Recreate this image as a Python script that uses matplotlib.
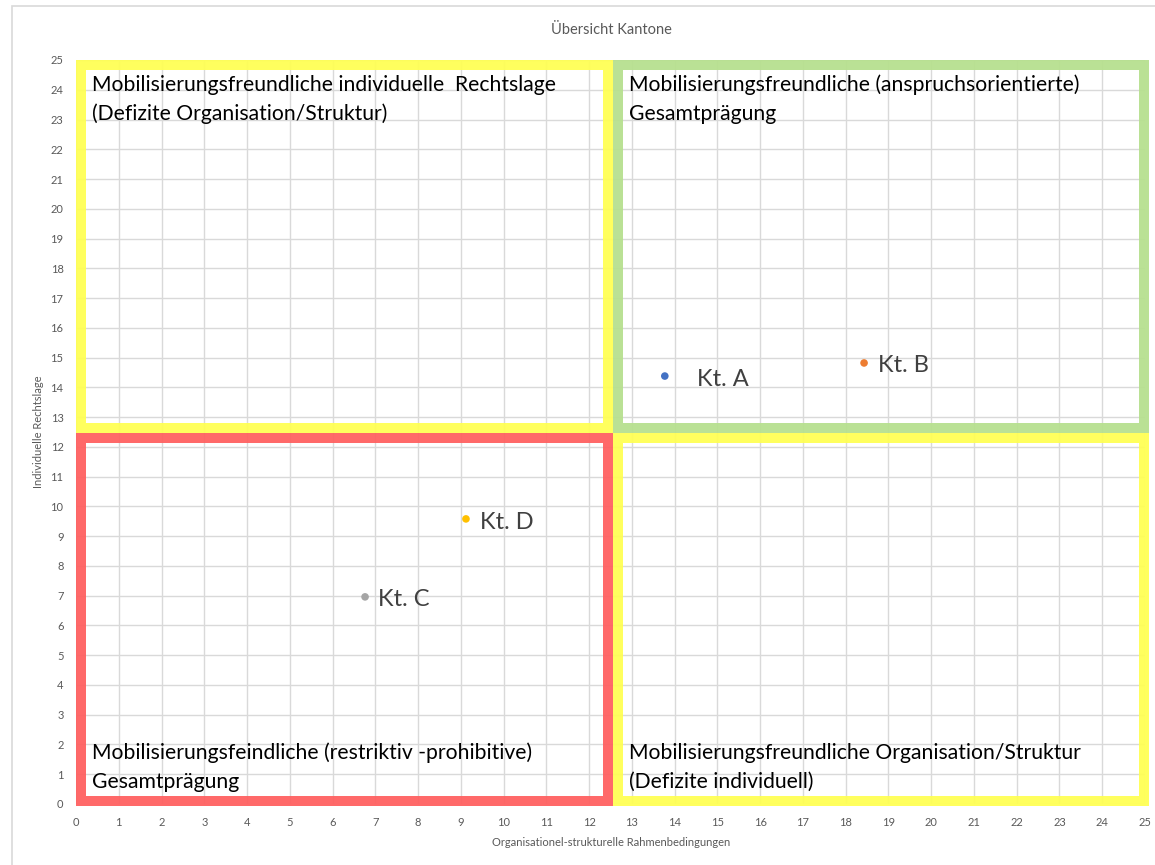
import matplotlib
matplotlib.use("Agg")
import matplotlib.pyplot as plt
from matplotlib.patches import Rectangle

plt.rcParams['font.family'] = ['Lato', 'DejaVu Sans']

# Cantons: organisational-structural conditions (x) vs individual legal situation (y)
cantons = ['Kt. A', 'Kt. B', 'Kt. C', 'Kt. D']
org_struct = [13.77, 18.43, 6.76, 9.12]
legal = [14.38, 14.82, 6.96, 9.58]
point_colors = ['#4472C4', '#ED7D31', '#A5A5A5', '#FFC000']
label_offsets = [(32, -3), (14, -3), (13, -3), (14, -4)]  # px

# Quadrant frames: (x0, x1, y0, y1, colour, caption)
quad_x0 = [0, 12.55, 0, 12.55]
quad_x1 = [12.55, 25.1, 12.55, 25.1]
quad_y0 = [12.47, 12.47, -0.07, -0.07]
quad_y1 = [25, 25, 12.47, 12.47]
quad_colors = ['#FFFF55', '#B7E08F', '#FF6161', '#FFFF55']
quad_text = [
    ['Mobilisierungsfreundliche individuelle  Rechtslage', '(Defizite Organisation/Struktur)'],
    ['Mobilisierungsfreundliche (anspruchsorientierte)', 'Gesamtprägung'],
    ['Mobilisierungsfeindliche (restriktiv -prohibitive)', 'Gesamtprägung'],
    ['Mobilisierungsfreundliche Organisation/Struktur', '(Defizite individuell)'],
]
# caption line centres, pixels from the top of the figure
caption_rows = [[85, 114], [85, 114], [753, 782], [753, 782]]

W, H = 1155, 865
fig = plt.figure(figsize=(W / 100, H / 100), dpi=100)
fig.patches.append(Rectangle((12 / W, -0.05), 1.1, (H - 6) / H + 0.05,
                             transform=fig.transFigure, fill=False,
                             edgecolor='#D9D9D9', lw=1.2))

left, right, bottom, top = 76, 1145, 804, 60
ax = fig.add_axes([left / W, (H - bottom) / H, (right - left) / W, (bottom - top) / H])
ax.set_xlim(0, 25)
ax.set_ylim(0, 25)
ax.set_xticks(range(26))
ax.set_yticks(range(26))
ax.grid(True, color='#D9D9D9', lw=1)
ax.set_axisbelow(True)
for s in ax.spines.values():
    s.set_visible(False)
ax.tick_params(length=0, labelsize=8, colors='#595959', pad=9)

px_x = (right - left) / 25
px_y = (bottom - top) / 25
lw_px = 10
for x0, x1, y0, y1, c, lines, rows in zip(quad_x0, quad_x1, quad_y0, quad_y1,
                                          quad_colors, quad_text, caption_rows):
    dx = lw_px / 2 / px_x
    dy = lw_px / 2 / px_y
    ax.add_patch(Rectangle((x0 + dx, y0 + dy), x1 - x0 - 2 * dx, y1 - y0 - 2 * dy,
                           fill=False, edgecolor=c, lw=lw_px * 0.72, alpha=0.95,
                           joinstyle='miter', clip_on=False, zorder=2))
    for line, row in zip(lines, rows):
        ax.text(x0 + 16 / px_x, (bottom - row) / px_y, line, fontsize=15.2,
                va='center', ha='left')

ax.scatter(org_struct, legal, c=point_colors, s=30, zorder=3, edgecolors='none')
for name, x, y, (ox, oy) in zip(cantons, org_struct, legal, label_offsets):
    ax.annotate(name, (x, y), xytext=(ox * 0.72, oy * 0.72), textcoords='offset points',
                fontsize=17, color='#404040', va='center', ha='left')

fig.text(611 / W, 1 - 30 / H, 'Übersicht Kantone', ha='center', va='center',
         fontsize=10.5, color='#595959')
fig.text(611 / W, 1 - 843 / H, 'Organisationel-strukturelle Rahmenbedingungen',
         ha='center', va='center', fontsize=8, color='#595959')
fig.text(38 / W, 1 - 432 / H, 'Individuelle Rechtslage', ha='center', va='center',
         rotation=90, fontsize=8, color='#595959')

fig.savefig('out.png', dpi=100)
